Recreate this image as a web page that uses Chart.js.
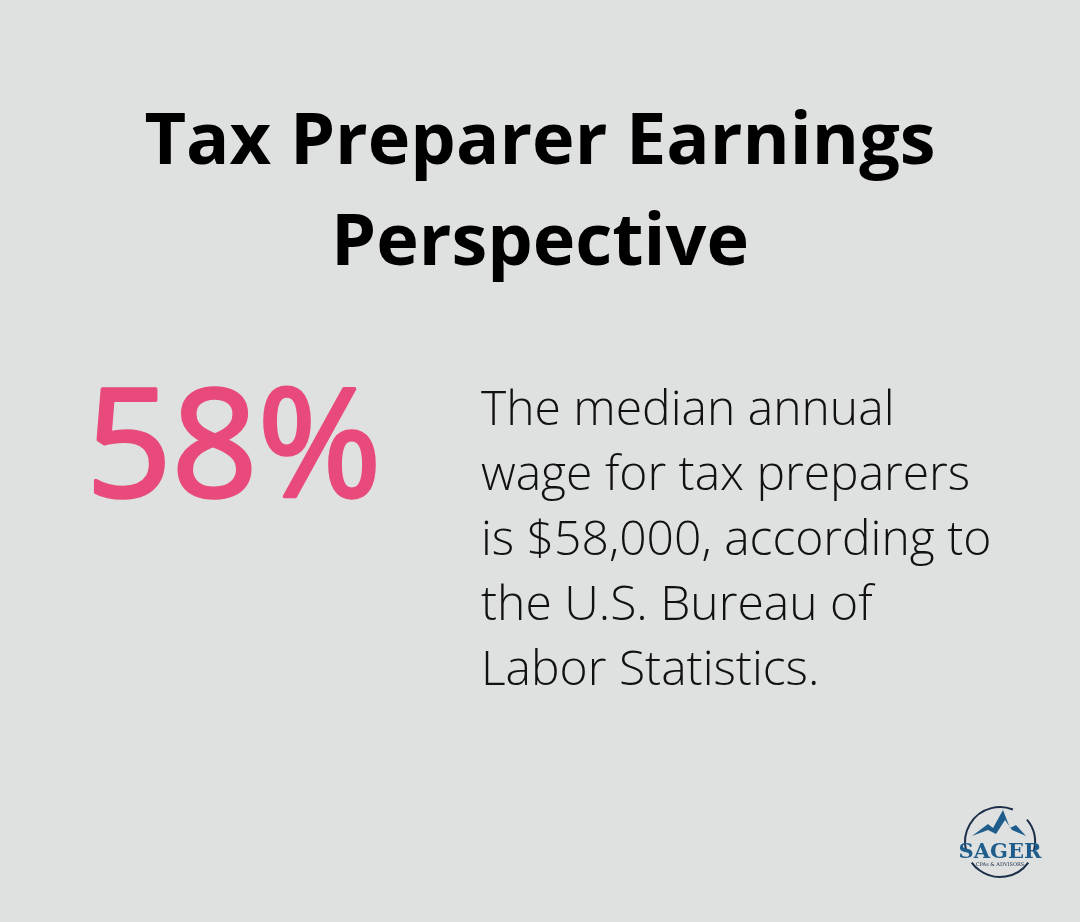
<!DOCTYPE html>
<html><head><meta charset="utf-8">
<script src="https://cdn.jsdelivr.net/npm/chart.js@4"></script>
<style>html,body{margin:0;padding:0;background:#dfe1e0;}#wrap{width:1080px;height:922px;position:relative;}</style>
</head><body><div id="wrap"><canvas id="c" width="1080" height="922"></canvas></div>
<script>
const titleLines = ["Tax Preparer Earnings", "Perspective"];
const statLabels = ["Median wage share"];
const statValues = [58];
const bodyLines = ["The median annual", "wage for tax preparers", "is $58,000, according to", "the U.S. Bureau of", "Labor Statistics."];

const infographic = {
  id: 'infographic',
  afterDraw(chart) {
    const ctx = chart.ctx;
    ctx.save();
    ctx.textBaseline = 'alphabetic';
    ctx.fillStyle = '#000';
    ctx.textAlign = 'center';
    ctx.font = 'bold 72px "Open Sans"';
    ctx.fillText(titleLines[0], 540, 164);
    ctx.fillText(titleLines[1], 540, 265);
    const v = chart.data.datasets[0].data[0];
    ctx.textAlign = 'left';
    ctx.fillStyle = '#e84a7b';
    ctx.strokeStyle = '#e84a7b';
    ctx.lineWidth = 3.5;
    ctx.lineJoin = 'round';
    ctx.font = '150px "Open Sans"';
    ctx.fillText(v + '%', 86, 497);
    ctx.strokeText(v + '%', 86, 497);
    ctx.fillStyle = '#111';
    ctx.font = '300 48px "Open Sans"';
    bodyLines.forEach((l, i) => ctx.fillText(l, 481, 425 + i * 65));
    // logo
    ctx.strokeStyle = '#1c2e4a'; ctx.lineWidth = 2;
    ctx.beginPath(); ctx.arc(1000, 842, 35, Math.PI * 0.92, Math.PI * 1.62, false); ctx.stroke();
    ctx.beginPath(); ctx.arc(1000, 842, 35, Math.PI * 1.78, Math.PI * 2.08, false); ctx.stroke();
    ctx.beginPath(); ctx.arc(1000, 842, 35, Math.PI * 0.2, Math.PI * 0.8, false); ctx.stroke();
    ctx.fillStyle = '#1f5d8c';
    ctx.beginPath(); ctx.moveTo(972,836); ctx.lineTo(988,824); ctx.lineTo(993,828); ctx.lineTo(1003,810); ctx.lineTo(1010,828); ctx.lineTo(1016,825); ctx.lineTo(1026,836); ctx.lineTo(1012,830); ctx.lineTo(1005,820); ctx.lineTo(996,834); ctx.lineTo(988,830); ctx.closePath(); ctx.fill();
    ctx.textAlign = 'center';
    ctx.font = 'bold 21px "DejaVu Serif"';
    ctx.fillText('SAGER', 1000, 858);
    ctx.fillStyle = '#1c2e4a';
    ctx.font = '5px "DejaVu Serif"';
    ctx.fillText('CPAs & ADVISORS', 1000, 866);
    ctx.restore();
  }
};

new Chart(document.getElementById('c'), {
  type: 'doughnut',
  data: { labels: statLabels, datasets: [{ data: statValues, backgroundColor: 'rgba(0,0,0,0)', borderWidth: 0 }] },
  options: {
    responsive: false, animation: false,
    plugins: { legend: { display: false }, tooltip: { enabled: false } }
  },
  plugins: [infographic]
});
</script></body></html>
